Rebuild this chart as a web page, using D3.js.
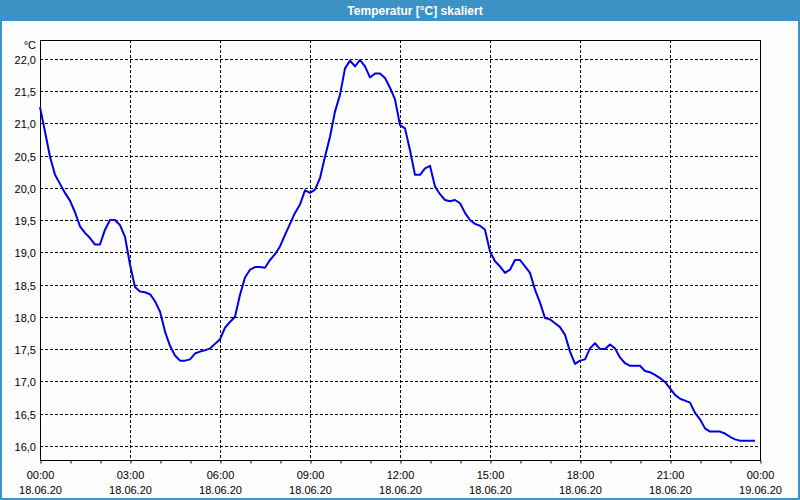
<!DOCTYPE html>
<html>
<head>
<meta charset="utf-8">
<script src="https://cdn.jsdelivr.net/npm/d3@7"></script>
<style>
  html, body { margin: 0; padding: 0; background: #fcfdfc; }
  svg { display: block; }
  text { font-family: "Liberation Sans", Arial, sans-serif; }
</style>
</head>
<body>
<svg id="chart" width="800" height="500"></svg>
<script>
const title = "Temperatur [°C] skaliert";
const unitLabel = "°C";

const times = [
  "00:00","00:10","00:20","00:30","00:40","00:50","01:00","01:10","01:20","01:30","01:40","01:50",
  "02:00","02:10","02:20","02:30","02:40","02:50","03:00","03:10","03:20","03:30","03:40","03:50",
  "04:00","04:10","04:20","04:30","04:40","04:50","05:00","05:10","05:20","05:30","05:40","05:50",
  "06:00","06:10","06:20","06:30","06:40","06:50","07:00","07:10","07:20","07:30","07:40","07:50",
  "08:00","08:10","08:20","08:30","08:40","08:50","09:00","09:10","09:20","09:30","09:40","09:50",
  "10:00","10:10","10:20","10:30","10:40","10:50","11:00","11:10","11:20","11:30","11:40","11:50",
  "12:00","12:10","12:20","12:30","12:40","12:50","13:00","13:10","13:20","13:30","13:40","13:50",
  "14:00","14:10","14:20","14:30","14:40","14:50","15:00","15:10","15:20","15:30","15:40","15:50",
  "16:00","16:10","16:20","16:30","16:40","16:50","17:00","17:10","17:20","17:30","17:40","17:50",
  "18:00","18:10","18:20","18:30","18:40","18:50","19:00","19:10","19:20","19:30","19:40","19:50",
  "20:00","20:10","20:20","20:30","20:40","20:50","21:00","21:10","21:20","21:30","21:40","21:50",
  "22:00","22:10","22:20","22:30","22:40","22:50","23:00","23:10","23:20","23:30","23:40","23:50"
];

const temperature = [
  21.26,20.88,20.49,20.21,20.07,19.93,19.81,19.63,19.41,19.31,19.23,19.13,
  19.13,19.36,19.51,19.51,19.43,19.25,18.82,18.47,18.40,18.39,18.36,18.25,
  18.09,17.78,17.56,17.41,17.33,17.33,17.35,17.44,17.47,17.49,17.52,17.59,
  17.66,17.84,17.93,18.01,18.35,18.62,18.74,18.78,18.78,18.77,18.89,18.98,
  19.10,19.28,19.45,19.62,19.75,19.97,19.93,19.98,20.16,20.49,20.80,21.19,
  21.45,21.86,21.98,21.89,21.99,21.89,21.72,21.78,21.78,21.71,21.56,21.38,
  20.98,20.93,20.59,20.21,20.21,20.31,20.35,20.03,19.91,19.82,19.80,19.82,
  19.77,19.62,19.51,19.45,19.42,19.36,19.02,18.87,18.79,18.69,18.74,18.89,
  18.89,18.79,18.69,18.43,18.23,17.99,17.97,17.91,17.85,17.73,17.47,17.28,
  17.33,17.35,17.52,17.60,17.51,17.51,17.58,17.52,17.38,17.29,17.25,17.25,
  17.25,17.17,17.15,17.11,17.06,17.00,16.90,16.80,16.74,16.71,16.68,16.52,
  16.42,16.28,16.23,16.23,16.23,16.20,16.15,16.11,16.09,16.09,16.09,16.09
];

const yTicks = [16.0, 16.5, 17.0, 17.5, 18.0, 18.5, 19.0, 19.5, 20.0, 20.5, 21.0, 21.5, 22.0];
const xTickTimes = ["2020-06-18T00:00","2020-06-18T03:00","2020-06-18T06:00","2020-06-18T09:00",
  "2020-06-18T12:00","2020-06-18T15:00","2020-06-18T18:00","2020-06-18T21:00","2020-06-19T00:00"];
const xDomain = ["2020-06-18T00:00", "2020-06-19T00:00"];
const yDomain = [15.79, 22.30];
const day = "2020-06-18";

const W = 800, H = 500;
const L = 40, R = 760, T = 40, B = 460;
const svg = d3.select("#chart");
const parse = d3.timeParse("%Y-%m-%dT%H:%M");

const x = d3.scaleTime().domain(xDomain.map(parse)).range([L, R]);
const y = d3.scaleLinear().domain(yDomain).range([B, T]);
const crisp = v => Math.round(v) + 0.5;

const blue = "#3c92c4";
// window frame
svg.append("rect").attr("x", 0).attr("y", 0).attr("width", W).attr("height", H).attr("fill", blue);
svg.append("rect").attr("x", 2).attr("y", 21).attr("width", W - 4).attr("height", H - 23).attr("fill", "#fcfdfc");

// title
svg.append("text").attr("x", 415).attr("y", 14.5).attr("text-anchor", "middle")
  .attr("fill", "#ffffff").attr("font-weight", "bold").attr("font-size", "12px").text(title);

// horizontal grid
svg.append("g").selectAll("line").data(yTicks).join("line")
  .attr("x1", L).attr("x2", R)
  .attr("y1", d => crisp(y(d) - 0.5)).attr("y2", d => crisp(y(d) - 0.5))
  .attr("stroke", "#000").attr("stroke-width", 1).attr("stroke-dasharray", "3,2");

// vertical grid
const xTicks = xTickTimes.map(parse);
svg.append("g").selectAll("line").data(xTicks.slice(1, -1)).join("line")
  .attr("x1", d => crisp(x(d))).attr("x2", d => crisp(x(d)))
  .attr("y1", T).attr("y2", B)
  .attr("stroke", "#000").attr("stroke-width", 1).attr("stroke-dasharray", "3,2");

// x axis with hourly minor ticks
const xAxis = d3.axisBottom(x).ticks(d3.timeHour.every(1)).tickSize(3).tickFormat("");
const gx = svg.append("g").attr("transform", `translate(0.5,${B + 0.5})`).call(xAxis);
gx.select(".domain").remove();
gx.selectAll("line").attr("stroke", "#000");

// frame
svg.append("rect").attr("x", L + 0.5).attr("y", T + 0.5).attr("width", R - L).attr("height", B - T)
  .attr("fill", "none").attr("stroke", "#000").attr("stroke-width", 1);

// y labels
const fmt = d3.format(".1f");
svg.append("g").selectAll("text").data(yTicks).join("text")
  .attr("x", 36).attr("y", d => y(d) + 4.5).attr("text-anchor", "end")
  .attr("font-size", "11px").attr("fill", "#000")
  .text(d => fmt(d).replace(".", ","));
svg.append("text").attr("x", 36).attr("y", 49).attr("text-anchor", "end")
  .attr("font-size", "11px").attr("fill", "#000").text(unitLabel);

// x labels
const fT = d3.timeFormat("%H:%M"), fD = d3.timeFormat("%d.%m.%y");
const xl = svg.append("g").selectAll("g").data(xTicks).join("g")
  .attr("transform", d => `translate(${x(d) + 0.5},0)`);
xl.append("text").attr("y", 478.5).attr("text-anchor", "middle").attr("font-size", "11px").text(fT);
xl.append("text").attr("y", 494).attr("text-anchor", "middle").attr("font-size", "11px").text(fD);

// line
const pts = times.map((t, i) => ({ t: parse(day + "T" + t), v: temperature[i] }));
svg.append("path").datum(pts)
  .attr("fill", "none").attr("stroke", "#0000e6").attr("stroke-width", 2)
  .attr("stroke-linejoin", "round")
  .attr("d", d3.line().x(d => x(d.t)).y(d => y(d.v)));
</script>
</body>
</html>
